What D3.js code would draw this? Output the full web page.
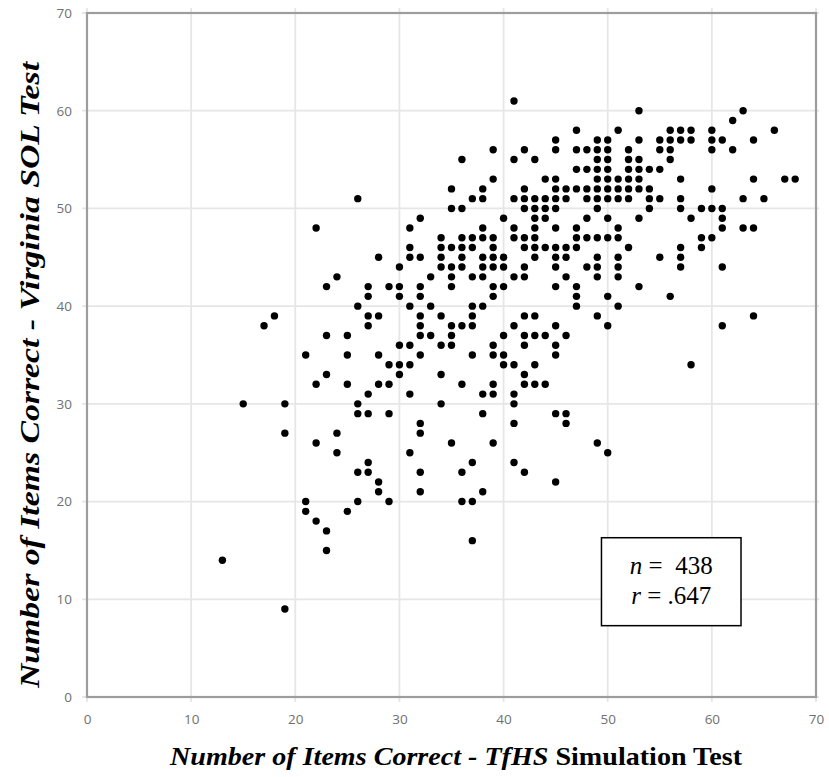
<!DOCTYPE html>
<html><head><meta charset="utf-8">
<script src="https://cdn.jsdelivr.net/npm/d3@7"></script>
<style>body{margin:0;background:#fff;}</style>
</head><body>
<svg id="chart" width="829" height="777"></svg>
<script>
// ---- data ----
const xTicks = [0, 10, 20, 30, 40, 50, 60, 70];
const yTicks = [0, 10, 20, 30, 40, 50, 60, 70];
// Virginia SOL score for each row of dots
const solScores = [61,60,59,58,57,56,55,54,53,52,51,50,49,48,47,46,45,44,43,42,41,40,39,38,37,36,35,34,33,32,31,30,29,28,27,26,25,24,23,22,21,20,19,18,17,16,15,14,9];
// TfHS simulation scores observed at each SOL score (same order as solScores)
const tfhsByRow = [
  [41],
  [53,63],
  [62],
  [47,51,56,57,58,60,66],
  [45,49,50,53,55,56,57,58,60,61,64],
  [39,42,45,47,48,49,50,52,55,56,60,62],
  [36,41,43,49,50,52,53,56],
  [47,48,49,50,52,53,54,55],
  [39,44,45,49,50,51,52,53,57,64,67,68],
  [35,38,42,45,46,47,48,49,50,51,52,53,54,60],
  [26,37,38,41,42,43,44,45,46,48,49,50,51,52,54,55,57,63,65],
  [35,36,42,43,44,45,49,54,57,59,60,61],
  [32,40,43,44,48,50,53,58,61],
  [22,31,38,41,43,45,47,51,61,63,64],
  [34,36,37,38,39,41,42,43,47,48,49,50,51,59,60],
  [31,34,35,36,37,39,42,43,44,45,46,47,52,57,59],
  [28,31,32,34,36,38,39,40,43,45,46,49,51,55,57],
  [30,34,35,36,38,39,40,42,45,48,49,51,57,61],
  [24,33,35,37,38,41,42,46,49,51],
  [23,27,29,30,32,35,39,40,45,47,53],
  [27,30,32,39,47,50,56],
  [26,31,33,37,38,47,51],
  [18,27,28,32,34,37,42,43,49,64],
  [17,27,32,35,36,37,41,45,50,61],
  [23,25,32,33,35,40,42,43,44,46],
  [30,31,34,35,39,42,45],
  [21,25,28,32,37,39,40,45],
  [29,30,31,40,41,43,58],
  [23,30,34,42],
  [22,25,28,29,36,39,42,43,44],
  [27,31,38,39,41],
  [15,19,26,34,41],
  [26,27,29,38,45,46],
  [32,41,46],
  [19,24,32],
  [22,35,39,49],
  [24,31,50],
  [27,37,41],
  [26,27,32,36,42],
  [28,45],
  [28,32,38],
  [21,26,29,36,37],
  [21,25],
  [22],
  [23],
  [37],
  [23],
  [13],
  [19]
];
const statN = "438";
const statR = ".647";
const xTitleParts = [
  {text: "Number of Items Correct - ", italic: true},
  {text: "TfHS", italic: true},
  {text: " Simulation Test", italic: false}
];
const yTitle = "Number of Items Correct - Virginia SOL Test";

// ---- drawing ----
const svg = d3.select("#chart");
const plot = {left: 87, right: 816, top: 13, bottom: 697};
const x = d3.scaleLinear().domain([0, 70]).range([plot.left, plot.right]);
const y = d3.scaleLinear().domain([0, 70]).range([plot.bottom, plot.top]);

svg.append("rect").attr("width", 829).attr("height", 777).attr("fill", "#fff");

const grid = svg.append("g").attr("stroke", "#e6e6e6").attr("stroke-width", 1.8);
grid.selectAll("line.v").data(xTicks).join("line")
  .attr("x1", d => x(d)).attr("x2", d => x(d))
  .attr("y1", y(70) - 5).attr("y2", y(0) + 5);
grid.selectAll("line.h").data(yTicks).join("line")
  .attr("y1", d => y(d)).attr("y2", d => y(d))
  .attr("x1", x(0) - 5).attr("x2", x(70) + 3);

// frame
svg.append("rect")
  .attr("x", x(0)).attr("y", y(70))
  .attr("width", x(70) - x(0)).attr("height", y(0) - y(70))
  .attr("fill", "none").attr("stroke", "#9d9d9d").attr("stroke-width", 2.2);

// tick labels via d3 axes
const tickFont = "'Open Sans', 'Noto Sans', sans-serif";
const xAxis = svg.append("g").attr("transform", `translate(0,${y(0)})`)
  .call(d3.axisBottom(x).tickValues(xTicks).tickSize(0).tickPadding(17));
const yAxis = svg.append("g").attr("transform", `translate(${x(0)},0)`)
  .call(d3.axisLeft(y).tickValues(yTicks).tickSize(0).tickPadding(15));
[xAxis, yAxis].forEach(a => {
  a.select(".domain").remove();
  a.selectAll("text").attr("font-family", tickFont).attr("font-size", 13.5).attr("fill", "#707070");
});

// points
const points = solScores.flatMap((s, i) => tfhsByRow[i].map(t => ({t, s})));
svg.append("g").selectAll("circle").data(points).join("circle")
  .attr("cx", d => x(d.t)).attr("cy", d => y(d.s)).attr("r", 3.7).attr("fill", "#000");

// stats box
const bx = x(49.4), by = y(16.3);
const box = svg.append("g");
box.append("rect").attr("x", bx).attr("y", by)
  .attr("width", x(62.8) - x(49.4)).attr("height", y(7.3) - y(16.3))
  .attr("fill", "#fff").attr("stroke", "#000").attr("stroke-width", 1.5);
const cx = (x(49.4) + x(62.8)) / 2;
const serif = "'Liberation Serif', 'Times New Roman', serif";
const t1 = box.append("text").attr("x", cx).attr("y", by + 36).attr("text-anchor", "middle")
  .attr("font-family", serif).attr("font-size", 25).attr("xml:space", "preserve");
t1.append("tspan").attr("font-style", "italic").text("n");
t1.append("tspan").text(" =  " + statN);
const t2 = box.append("text").attr("x", cx).attr("y", by + 66).attr("text-anchor", "middle")
  .attr("font-family", serif).attr("font-size", 25);
t2.append("tspan").attr("font-style", "italic").text("r");
t2.append("tspan").text(" = " + statR);

// axis titles
const xt = svg.append("text").attr("x", 456).attr("y", 765)
  .attr("text-anchor", "middle").attr("font-family", serif).attr("font-weight", "bold")
  .attr("font-size", 26).attr("xml:space", "preserve")
  .attr("textLength", 572).attr("lengthAdjust", "spacingAndGlyphs");
xTitleParts.forEach(p => xt.append("tspan").attr("font-style", p.italic ? "italic" : "normal").text(p.text));

svg.append("text")
  .attr("transform", `translate(39,375) rotate(-90)`)
  .attr("text-anchor", "middle").attr("font-family", serif).attr("font-weight", "bold")
  .attr("font-style", "italic").attr("font-size", 28)
  .attr("textLength", 626).attr("lengthAdjust", "spacingAndGlyphs")
  .text(yTitle);
</script>
</body></html>
